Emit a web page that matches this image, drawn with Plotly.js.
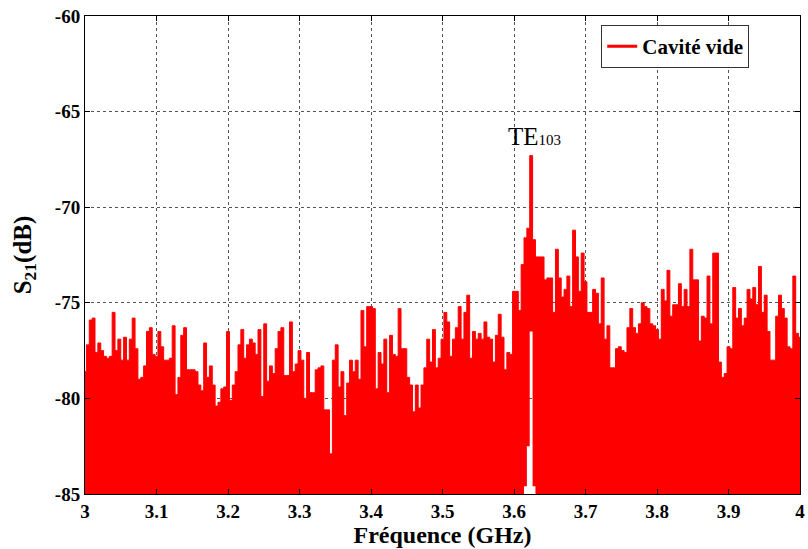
<!DOCTYPE html>
<html>
<head>
<meta charset="utf-8">
<script src="https://cdn.plot.ly/plotly-3.0.1.min.js"></script>
<style>html,body{margin:0;padding:0;background:#fff;}</style>
</head>
<body>
<div id="chart" style="width:808px;height:549px;"></div>
<script>
// Sampling grid of the measurement (GHz)
const freqStart = 3.0;
const freqStep = 0.004;

// Upper envelope of S21 (dB), one value per sample from 3.000 to 4.000 GHz
const s21Upper = [
 -78.6, -77.2, -75.9, -75.8, -77.6, -77.1, -77.5, -77.8, -77.9, -77.8,
 -75.5, -77.5, -76.9, -78.0, -76.8, -78.0, -76.9, -75.8, -77.4, -79.0,
 -78.9, -78.3, -76.5, -76.3, -77.7, -77.8, -76.5, -77.3, -78.0, -78.0,
 -77.9, -76.2, -79.8, -78.9, -76.7, -76.3, -78.5, -78.5, -78.5, -78.6,
 -79.3, -79.6, -77.1, -78.9, -78.3, -79.3, -80.4, -80.2, -79.5, -79.4,
 -76.5,
 -80.1, -79.3, -78.6, -77.2, -76.4, -77.9, -77.2, -76.9, -77.1, -77.7,
 -76.4, -79.9, -76.1, -79.1, -78.3, -78.7, -77.4, -76.5, -76.3, -78.8,
 -78.8, -76.0, -78.6, -78.2, -77.5, -78.0, -80.0, -77.6, -79.7, -79.7,
 -78.5, -78.4, -78.3, -80.6, -80.6, -82.9, -78.0, -77.2, -79.4, -78.6,
 -80.9, -79.2, -78.0, -78.6, -78.0, -79.0, -75.4, -77.3, -75.2, -75.2,
 -75.3, -79.5, -77.6, -78.2, -76.9, -79.7, -76.7, -77.7, -77.8, -75.3,
 -77.4, -77.4, -78.9, -79.3, -80.7, -79.3, -80.5, -79.3, -78.4, -76.9,
 -78.1, -76.4, -78.4, -77.9, -76.9, -75.5, -76.0, -77.8, -76.9, -76.3,
 -75.2, -76.9, -75.5, -74.6, -77.9, -76.5, -76.9, -76.6, -76.9, -76.0,
 -76.8, -76.9, -78.1, -76.7, -75.6, -76.8, -78.5, -77.6, -77.7, -74.4,
 -74.4, -75.4, -73.0, -71.6, -71.1, -67.3, -71.7, -72.6, -72.6, -72.6,
 -73.8, -73.7, -73.7, -75.5, -72.2, -73.7, -74.7, -74.3, -73.6, -75.2,
 -71.2, -72.6, -74.4, -72.4, -73.9, -75.5, -75.5, -74.3, -74.5, -76.1,
 -73.7, -76.9, -76.2, -78.4, -78.4, -77.4, -77.3, -77.5, -77.6, -76.3,
 -75.3, -76.3, -76.6, -76.1, -75.0, -75.2, -75.3, -76.1, -76.2, -76.4,
 -76.9, -74.3, -74.9, -73.3, -75.7, -75.1, -75.1, -74.0, -75.2, -74.3,
 -75.2, -72.2, -73.8, -73.8, -77.0, -75.7, -75.8, -73.6, -76.1, -72.4,
 -72.4, -78.1, -78.9, -78.7, -77.3, -77.4, -74.2, -75.8, -75.3, -76.2,
 -75.8, -74.3, -74.8, -74.2, -75.1, -73.1, -75.5, -74.6, -76.5, -78.0,
 -78.0, -75.7, -74.6, -75.3, -75.8, -77.3, -77.4, -73.6, -76.6, -76.8
];

// Lower envelope: noise floor below the axis, except near the TE103 resonance
const floorDb = -86;
const notchFreq = [3.616, 3.620, 3.624, 3.628];
const notchLow = [-84.6, -82.5, -76.5, -84.6];

const xTickVals = [3, 3.1, 3.2, 3.3, 3.4, 3.5, 3.6, 3.7, 3.8, 3.9, 4];
const xTickLabels = ['3', '3.1', '3.2', '3.3', '3.4', '3.5', '3.6', '3.7', '3.8', '3.9', '4'];
const yTickVals = [-85, -80, -75, -70, -65, -60];
const yTickLabels = ['-85', '-80', '-75', '-70', '-65', '-60'];

const peakLabelFreq = 3.629;
const peakLabelDb = -66.3;

// build sample arrays
const freq = s21Upper.map((_, i) => +(freqStart + i * freqStep).toFixed(4));
const s21Lower = freq.map(f => {
  const j = notchFreq.findIndex(n => Math.abs(n - f) < 1e-6);
  return j >= 0 ? notchLow[j] : floorDb;
});

const RED = '#ff0000';
const serif = 'Liberation Serif, Times New Roman, serif';

const traces = [
  {x: freq, y: s21Lower, type: 'scatter', mode: 'lines',
   line: {width: 0, shape: 'hvh', color: RED}, showlegend: false, hoverinfo: 'skip'},
  {x: freq, y: s21Upper, type: 'scatter', mode: 'lines', fill: 'tonexty',
   fillcolor: RED, line: {width: 1, shape: 'hvh', color: RED},
   showlegend: false, name: 'Cavité vide'},
  {x: [null], y: [null], type: 'scatter', mode: 'lines',
   line: {width: 3, color: RED}, name: 'Cavité vide', showlegend: true}
];

const axisCommon = {
  ticks: 'inside', ticklen: 5, tickcolor: '#000', tickwidth: 1,
  showline: true, mirror: 'ticks', linecolor: '#000', linewidth: 1,
  showgrid: true, gridcolor: '#555', griddash: 'dot', gridwidth: 1,
  zeroline: false, tickmode: 'array',
  tickfont: {family: serif, size: 19, color: '#000', weight: 'bold'}
};

const layout = {
  width: 808, height: 549,
  margin: {l: 85, r: 8, t: 16, b: 55, pad: 0},
  paper_bgcolor: '#fff', plot_bgcolor: '#fff',
  xaxis: Object.assign({}, axisCommon, {
    range: [3, 4], tickvals: xTickVals, ticktext: xTickLabels,
    title: {text: 'Fréquence (GHz)', standoff: 2,
            font: {family: serif, size: 24, color: '#000', weight: 'bold'}}
  }),
  yaxis: Object.assign({}, axisCommon, {
    range: [-85, -60], tickvals: yTickVals, ticktext: yTickLabels,
    title: {text: 'S<sub>21</sub>(dB)', standoff: 16,
            font: {family: serif, size: 25, color: '#000', weight: 'bold'}}
  }),
  legend: {x: 0.722, y: 0.981, xanchor: 'left', yanchor: 'top',
           bgcolor: '#fff', bordercolor: '#333', borderwidth: 1,
           font: {family: serif, size: 21, color: '#000', weight: 'bold'}},
  annotations: [{
    x: peakLabelFreq, y: peakLabelDb, xref: 'x', yref: 'y', showarrow: false,
    text: 'TE<span style="font-size:15px">103</span>',
    font: {family: serif, size: 25, color: '#000'}
  }],
  showlegend: true
};

Plotly.newPlot('chart', traces, layout, {displayModeBar: false, staticPlot: true});
</script>
</body>
</html>
